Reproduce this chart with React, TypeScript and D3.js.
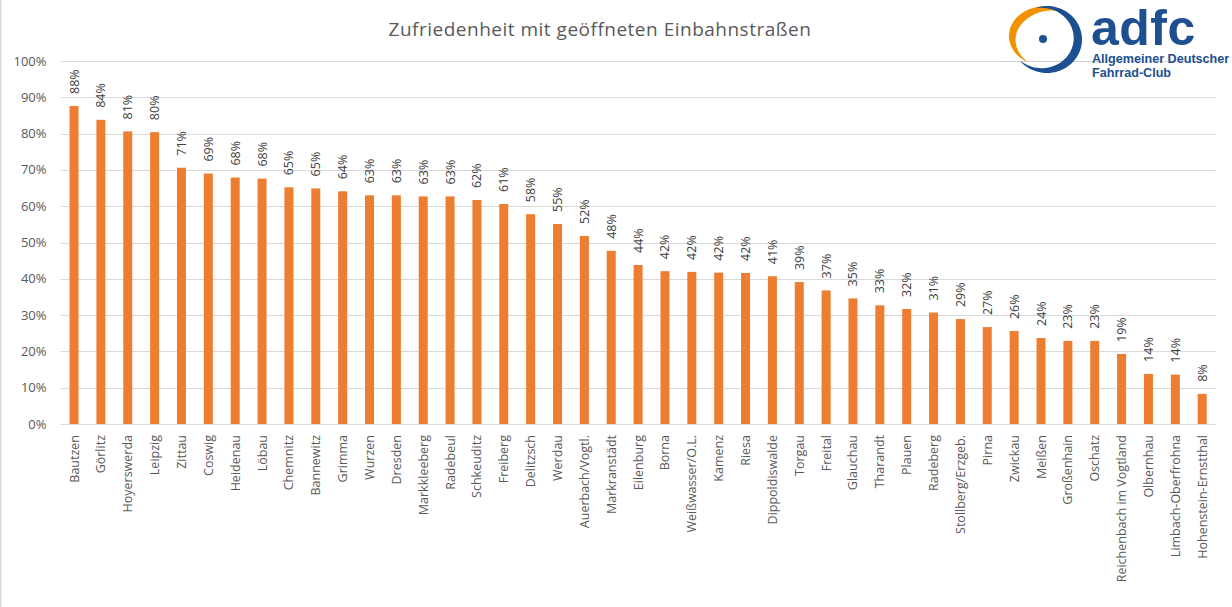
import React from "react";
import * as d3 from "d3";

const categories = [
  "Bautzen", "Görlitz", "Hoyerswerda", "Leipzig", "Zittau", "Coswig", "Heidenau", "Löbau",
  "Chemnitz", "Bannewitz", "Grimma", "Wurzen", "Dresden", "Markkleeberg", "Radebeul",
  "Schkeuditz", "Freiberg", "Delitzsch", "Werdau", "Auerbach/Vogtl.", "Markranstädt",
  "Eilenburg", "Borna", "Weißwasser/O.L.", "Kamenz", "Riesa", "Dippoldiswalde", "Torgau",
  "Freital", "Glauchau", "Tharandt", "Plauen", "Radeberg", "Stollberg/Erzgeb.", "Pirna",
  "Zwickau", "Meißen", "Großenhain", "Oschatz", "Reichenbach im Vogtland", "Olbernhau",
  "Limbach-Oberfrohna", "Hohenstein-Ernstthal",
];

const values = [
  0.876, 0.838, 0.806, 0.804, 0.706, 0.69, 0.679, 0.676,
  0.652, 0.649, 0.641, 0.63, 0.63, 0.627, 0.627,
  0.617, 0.606, 0.578, 0.551, 0.518, 0.477,
  0.438, 0.421, 0.419, 0.417, 0.416, 0.407, 0.391,
  0.368, 0.346, 0.327, 0.317, 0.307, 0.289, 0.267,
  0.256, 0.237, 0.229, 0.229, 0.193, 0.138,
  0.136, 0.083,
];

const yTicks = [0, 0.1, 0.2, 0.3, 0.4, 0.5, 0.6, 0.7, 0.8, 0.9, 1.0];

const title = "Zufriedenheit mit geöffneten Einbahnstraßen";

function crescent(cx: number, cy: number, rx: number, ry: number, a0: number, a1: number, maxT: number) {
  const n = 60;
  const outer: [number, number][] = [];
  const inner: [number, number][] = [];
  for (let i = 0; i <= n; i++) {
    const f = i / n;
    const a = ((a0 + (a1 - a0) * f) * Math.PI) / 180;
    const t = 0.6 + (maxT - 0.6) * Math.sin(Math.PI * f);
    outer.push([cx + rx * Math.cos(a), cy + ry * Math.sin(a)]);
    inner.push([cx + (rx - t) * Math.cos(a), cy + (ry - t) * Math.sin(a)]);
  }
  const pts = outer.concat(inner.reverse());
  return d3.line().curve(d3.curveLinearClosed)(pts) || "";
}

export default function App() {
  const W = 1232;
  const H = 607;
  const left = 60.6;
  const right = 1215.6;
  const top = 61;
  const bottom = 424;

  const x = d3.scaleBand<string>().domain(categories).range([left, right]).paddingInner(0.665).paddingOuter(0.3325);
  const y = d3.scaleLinear().domain([0, 1]).range([bottom, top]);
  const fmt = d3.format(".0%");
  const font = "'Open Sans', 'Noto Sans', sans-serif";
  const logoFont = "'Liberation Sans', Arial, sans-serif";

  return (
    <svg width={W} height={H} style={{ position: "absolute", left: 0, top: 0, background: "#fff" }}>
      <rect x={0} y={0} width={W} height={H} fill="#fff" />
      <line x1={0.75} x2={0.75} y1={0} y2={H} stroke="#d9d9d9" strokeWidth={1.5} />

      <text x={600} y={36} textAnchor="middle" fontFamily={font} fontSize={19} letterSpacing={0.5} fill="#595959">{title}</text>

      {yTicks.map((t) => (
        <g key={t}>
          <line x1={left} x2={right} y1={Math.round(y(t)) + 0.5} y2={Math.round(y(t)) + 0.5} stroke="#d9d9d9" strokeWidth={1} />
          <text x={46.5} y={y(t) + 4.5} textAnchor="end" fontFamily={font} fontSize={13} fill="#595959">{fmt(t)}</text>
        </g>
      ))}

      {categories.map((c, i) => {
        const bx = x(c)!;
        const bw = x.bandwidth();
        const cxb = bx + bw / 2;
        return (
          <g key={c}>
            <rect x={bx} y={y(values[i])} width={bw} height={bottom - y(values[i])} fill="#ed7d31" />
            <text
              transform={`translate(${cxb + 4.5},${y(values[i]) - 12}) rotate(-90)`}
              textAnchor="start"
              fontFamily={font}
              fontSize={12.5}
              fill="#404040"
            >{fmt(values[i])}</text>
            <text
              transform={`translate(${cxb + 4.5},${435}) rotate(-90)`}
              textAnchor="end"
              fontFamily={font}
              fontSize={12.5}
              fill="#595959"
            >{c}</text>
          </g>
        );
      })}

      {/* ADFC logo */}
      <g>
        <line x1={1000} x2={1090} y1={61.5} y2={61.5} stroke="#cfcfcf" strokeWidth={1} />
        <path d={crescent(1044, 36, 35, 29.5, -56, -239, 8)} fill="#f39200" />
        <path d={crescent(1047, 39.5, 35, 33.5, -106, 138, 8.5)} fill="#1d4f91" />
        <circle cx={1043} cy={39} r={4} fill="#1d4f91" />
        <text x={1091} y={45} fontFamily={logoFont} fontWeight="bold" fontSize={50} fill="#1d4f91" letterSpacing={0.5}>adfc</text>
        <text x={1092} y={63} fontFamily={logoFont} fontWeight="bold" fontSize={12.6} fill="#1d4f91">Allgemeiner Deutscher</text>
        <text x={1092} y={77} fontFamily={logoFont} fontWeight="bold" fontSize={12.6} fill="#1d4f91">Fahrrad-Club</text>
      </g>
    </svg>
  );
}
